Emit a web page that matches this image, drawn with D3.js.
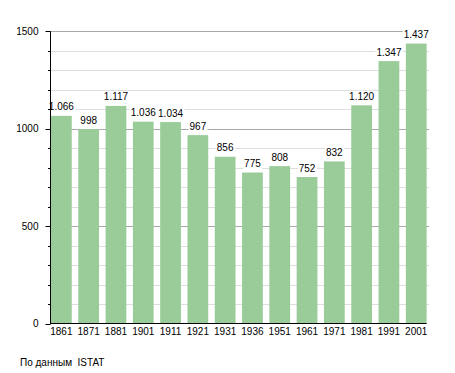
<!DOCTYPE html>
<html>
<head>
<meta charset="utf-8">
<script src="https://cdn.jsdelivr.net/npm/d3@7"></script>
<style>
  body { margin: 0; background: #fff; }
  text { font-family: "Liberation Sans", Arial, sans-serif; font-size: 10px; fill: #000; }
</style>
</head>
<body>
<div id="chart"></div>
<script>
// population by census year
const years = ["1861", "1871", "1881", "1901", "1911", "1921", "1931", "1936", "1951", "1961", "1971", "1981", "1991", "2001"];
const population = [1066, 998, 1117, 1036, 1034, 967, 856, 775, 808, 752, 832, 1120, 1347, 1437];
const yTicks = [0, 500, 1000, 1500];
const source = "По данным  ISTAT";

const W = 455, H = 373;
const plotLeft = 50.5, plotRight = 429, plotTop = 31.3, plotBottom = 323.5;

const svg = d3.select("#chart").append("svg")
  .attr("width", W)
  .attr("height", H);

const x = d3.scaleBand()
  .domain(years)
  .range([51, 426.6])
  .paddingInner(0.24)
  .paddingOuter(0);

const y = d3.scaleLinear()
  .domain([0, 1500])
  .range([plotBottom, plotTop]);

// grid lines
const minor = d3.range(100, 1501, 100).filter(v => v % 500 != 0);
svg.append("g").selectAll("line")
  .data(minor)
  .join("line")
  .attr("x1", plotLeft).attr("x2", plotRight)
  .attr("y1", d => Math.round(y(d)) + 0.5)
  .attr("y2", d => Math.round(y(d)) + 0.5)
  .attr("stroke", "#dedede");

svg.append("g").selectAll("line")
  .data(yTicks.filter(v => v > 0))
  .join("line")
  .attr("x1", plotLeft).attr("x2", plotRight)
  .attr("y1", d => Math.round(y(d)) + 0.5)
  .attr("y2", d => Math.round(y(d)) + 0.5)
  .attr("stroke", "#a8a8a8");

// bars
svg.append("g").selectAll("rect")
  .data(population)
  .join("rect")
  .attr("x", (d, i) => x(years[i]))
  .attr("width", x.bandwidth())
  .attr("y", d => y(d))
  .attr("height", d => plotBottom - y(d))
  .attr("fill", "#99cc99");

// value labels with white box behind
const fmt = d3.formatLocale({ decimal: ",", thousands: ".", grouping: [3], currency: ["", ""] }).format(",d");
const labels = svg.append("g").selectAll("g")
  .data(population)
  .join("g")
  .attr("transform", (d, i) => "translate(" + (x(years[i]) + x.bandwidth() / 2) + "," + (y(d) - 5.5) + ")");
labels.append("text")
  .attr("text-anchor", "middle")
  .text(d => fmt(d));
labels.each(function() {
  const g = d3.select(this);
  const bb = g.select("text").node().getBBox();
  g.insert("rect", "text")
    .attr("x", bb.x - 1).attr("y", bb.y)
    .attr("width", bb.width + 2).attr("height", bb.height)
    .attr("fill", "#fff");
});

// y axis
const yAxis = svg.append("g").attr("transform", "translate(" + plotLeft + ",0)");
yAxis.append("line")
  .attr("x1", 0).attr("x2", 0)
  .attr("y1", plotTop).attr("y2", plotBottom)
  .attr("stroke", "#000");
yAxis.selectAll(".minor")
  .data(minor)
  .join("line")
  .attr("class", "minor")
  .attr("x1", -2.5).attr("x2", 0)
  .attr("y1", d => Math.round(y(d)) + 0.5)
  .attr("y2", d => Math.round(y(d)) + 0.5)
  .attr("stroke", "#000");
yAxis.selectAll(".major")
  .data(yTicks)
  .join("line")
  .attr("class", "major")
  .attr("x1", -5).attr("x2", 0)
  .attr("y1", d => Math.round(y(d)) + 0.5)
  .attr("y2", d => Math.round(y(d)) + 0.5)
  .attr("stroke", "#000");
yAxis.selectAll("text")
  .data(yTicks)
  .join("text")
  .attr("x", -12)
  .attr("y", d => y(d) + 3.5)
  .attr("text-anchor", "end")
  .text(d => d);

// x axis
svg.append("line")
  .attr("x1", plotLeft - 0.5).attr("x2", 426.6)
  .attr("y1", plotBottom).attr("y2", plotBottom)
  .attr("stroke", "#000");
svg.append("g").selectAll("text")
  .data(years)
  .join("text")
  .attr("x", d => x(d) + x.bandwidth() / 2)
  .attr("y", 335)
  .attr("text-anchor", "middle")
  .text(d => d);

svg.append("text")
  .attr("x", 20)
  .attr("y", 366)
  .attr("xml:space", "preserve")
  .style("white-space", "pre")
  .text(source);
</script>
</body>
</html>
